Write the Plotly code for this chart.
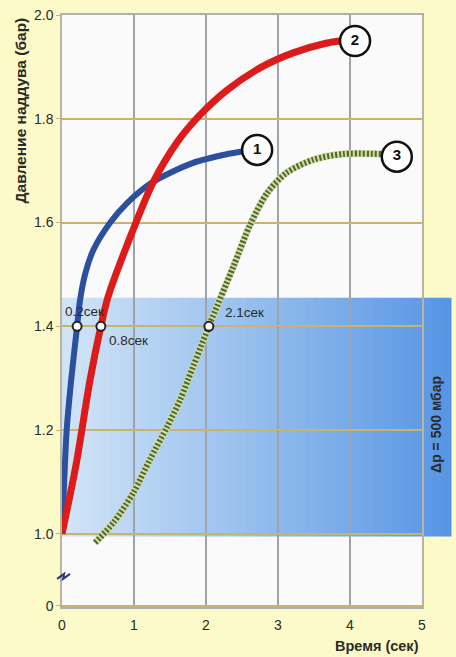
import plotly.graph_objects as go

# ---- data ----
t1 = [0, 0.03, 0.065, 0.13, 0.21, 0.25, 0.32, 0.435, 0.67, 0.90, 1.26, 1.82, 2.30, 2.50]
p1 = [1.0, 1.10, 1.20, 1.30, 1.40, 1.45, 1.50, 1.547, 1.60, 1.637, 1.678, 1.715, 1.732, 1.737]

t2 = [0, 0.20, 0.39, 0.54, 0.64, 0.97, 1.26, 1.60, 1.90, 2.29, 2.75, 3.21, 3.68, 3.86]
p2 = [1.0, 1.137, 1.297, 1.40, 1.457, 1.58, 1.676, 1.755, 1.805, 1.855, 1.898, 1.927, 1.946, 1.95]

t3 = [0.46, 0.71, 0.99, 1.22, 1.46, 1.64, 1.75, 2.04, 2.38, 2.61, 2.85, 3.12, 3.49, 3.90, 4.44]
p3 = [0.983, 1.021, 1.079, 1.143, 1.206, 1.258, 1.297, 1.40, 1.515, 1.595, 1.657, 1.696, 1.721, 1.732, 1.732]

curve_ids = ["1", "2", "3"]
id_x = [2.71, 4.07, 4.65]
id_y = [1.74, 1.95, 1.727]

mark_x = [0.21, 0.54, 2.04]
mark_y = [1.40, 1.40, 1.40]
mark_text = ["0.2сек", "0.8сек", "2.1сек"]

band_low, band_high = 0.995, 1.455
band_label = "Δp = 500 мбар"

x_ticks = [0, 1, 2, 3, 4, 5]
y_tickvals = [0.861, 1.0, 1.2, 1.4, 1.6, 1.8, 2.0]
y_ticktext = ["0", "1.0", "1.2", "1.4", "1.6", "1.8", "2.0"]

Y_MIN, Y_MAX = 0.859, 2.0

FONT = "Liberation Sans, Arial, sans-serif"
TXT = "#2b2b2b"

fig = go.Figure()

# gradient blue band (strips)
n = 40
x_end = 1.08
c0 = (208, 228, 246)
c1 = (88, 150, 228)
for i in range(n):
    f = i / (n - 1)
    col = "rgb(%d,%d,%d)" % tuple(round(a + (b - a) * f) for a, b in zip(c0, c1))
    fig.add_shape(type="rect", xref="paper", yref="y",
                  x0=x_end * i / n, x1=x_end * (i + 1) / n + 0.002,
                  y0=band_low, y1=band_high,
                  fillcolor=col, line=dict(width=0), layer="below")

# curves
fig.add_trace(go.Scatter(x=t1, y=p1, mode="lines", line=dict(color="#2c4f9e", width=6, shape="spline", smoothing=0.8),
                         hoverinfo="skip", showlegend=False))
fig.add_trace(go.Scatter(x=t2, y=p2, mode="lines", line=dict(color="#dc1b1b", width=7, shape="spline", smoothing=0.8),
                         hoverinfo="skip", showlegend=False))
fig.add_trace(go.Scatter(x=t3, y=p3, mode="lines", line=dict(color="#d3dca0", width=7, shape="spline", smoothing=0.8),
                         hoverinfo="skip", showlegend=False))
fig.add_trace(go.Scatter(x=t3, y=p3, mode="lines", line=dict(color="#4c6a32", width=6, dash="2px,2px", shape="spline", smoothing=0.8),
                         hoverinfo="skip", showlegend=False))

# 1.4 bar markers
fig.add_trace(go.Scatter(x=mark_x, y=mark_y, mode="markers",
                         marker=dict(size=9, color="white", line=dict(color="#222", width=2)),
                         hoverinfo="skip", showlegend=False))

# numbered circles
fig.add_trace(go.Scatter(x=id_x, y=id_y, mode="markers+text", text=["<b>%s</b>" % c for c in curve_ids],
                         textposition="middle center",
                         textfont=dict(family=FONT, size=15, color="#111"),
                         marker=dict(size=30, color="white", line=dict(color="#111", width=2.5)),
                         hoverinfo="skip", showlegend=False))

# time labels
shifts = [(-14, 15), (6, -14), (14, 14)]
for x, y, t, (dx, dy) in zip(mark_x, mark_y, mark_text, shifts):
    fig.add_annotation(x=x, y=y, text=t, showarrow=False, xanchor="left", yanchor="middle",
                       xshift=dx, yshift=dy, font=dict(family=FONT, size=13.5, color=TXT))

# band label
fig.add_annotation(xref="paper", yref="y", x=1.039, y=(band_low + band_high) / 2 - 0.015, text="<b>" + band_label + "</b>",
                   textangle=-90, showarrow=False, xanchor="center", yanchor="middle",
                   font=dict(family=FONT, size=14, color=TXT))

# axis titles
fig.add_annotation(xref="paper", yref="paper", x=-0.115, y=0.838, text="<b>Давление наддува (бар)</b>",
                   textangle=-90, showarrow=False, xanchor="center", yanchor="middle",
                   font=dict(family=FONT, size=15.5, color=TXT))
fig.add_annotation(xref="paper", yref="paper", x=0.875, y=-0.066, text="<b>Время (сек)</b>",
                   showarrow=False, xanchor="center", yanchor="middle",
                   font=dict(family=FONT, size=14.5, color=TXT))

# axis break mark
brk_y = (0.917 - Y_MIN) / (Y_MAX - Y_MIN)
fig.add_shape(type="path", xref="paper", yref="paper", xsizemode="pixel", ysizemode="pixel",
              xanchor=0.003, yanchor=brk_y,
              path="M -6,-2 L 1,3 L 0,-2 L 7,3", line=dict(color="#2a3a7a", width=2))

fig.update_xaxes(range=[0, 5], tickvals=x_ticks, ticktext=[str(v) for v in x_ticks],
                 showgrid=True, gridcolor="#9ea3aa", gridwidth=1.5, zeroline=False,
                 showline=True, linecolor="#aeb0b4", linewidth=1.5, mirror=True, automargin=False,
                 tickfont=dict(family=FONT, size=14, color=TXT), ticks="", ticklabelstandoff=4)
fig.update_yaxes(range=[Y_MIN, Y_MAX], tickvals=y_tickvals, ticktext=y_ticktext,
                 showgrid=True, gridcolor="#cdb36a", gridwidth=1.5, zeroline=False,
                 showline=True, linecolor="#b8b4a0", linewidth=1.5, mirror=True, automargin=False,
                 tickfont=dict(family=FONT, size=14, color=TXT), ticks="outside", ticklen=4,
                 tickcolor="#cdb36a")

fig.update_layout(width=456, height=657, margin=dict(l=62, r=34, t=15, b=50, autoexpand=False),
                  paper_bgcolor="#fcfac8", plot_bgcolor="#fbfafa", showlegend=False)

fig.write_html("out.html", config={"displayModeBar": False},
               post_script="document.body.style.margin='0';document.body.style.background='#fcfac8';")
